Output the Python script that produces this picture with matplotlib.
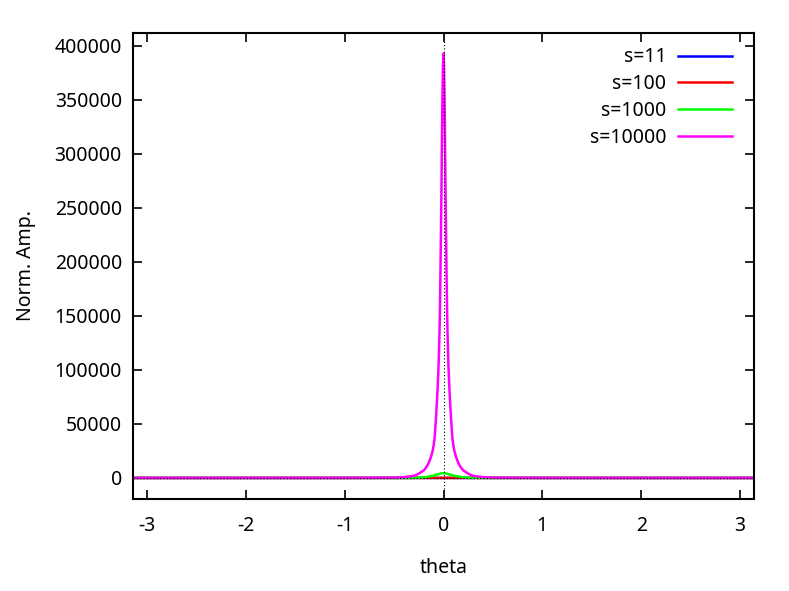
import matplotlib
matplotlib.use("Agg")
from matplotlib import pyplot as plt

plt.rcParams["font.family"] = ["Noto Sans", "DejaVu Sans"]
plt.rcParams["font.size"] = 14
plt.rcParams["axes.unicode_minus"] = False

# sample points along theta (dense near the peak)
theta = [-3.1416, -2.5, -2.0, -1.5, -1.0, -0.7, -0.5, -0.45, -0.4, -0.35,
         -0.3, -0.27, -0.245, -0.22, -0.2, -0.185, -0.17, -0.15, -0.126,
         -0.11, -0.1, -0.09, -0.084, -0.075, -0.064, -0.057, -0.05, -0.045,
         -0.04, -0.035, -0.03, -0.025, -0.02, -0.015, -0.01, -0.005, 0.0,
         0.005, 0.01, 0.015, 0.02, 0.025, 0.03, 0.035, 0.04, 0.045, 0.05,
         0.057, 0.064, 0.075, 0.084, 0.09, 0.1, 0.11, 0.126, 0.15, 0.17,
         0.185, 0.2, 0.22, 0.245, 0.27, 0.3, 0.35, 0.4, 0.45, 0.5, 0.7, 1.0,
         1.5, 2.0, 2.5, 3.1416]

# amplitude for each s
amp_s11 = [0.1, 0.1, 0.1, 0.2, 0.2, 0.3, 0.3, 0.3, 0.4, 0.4,
           0.4, 0.4, 0.4, 0.4, 0.5, 0.5, 0.5, 0.5, 0.5,
           0.5, 0.5, 0.5, 0.5, 0.5, 0.5, 0.5, 0.5, 0.5,
           0.5, 0.5, 0.5, 0.5, 0.5, 0.5, 0.5, 0.5, 0.5,
           0.5, 0.5, 0.5, 0.5, 0.5, 0.5, 0.5, 0.5, 0.5, 0.5,
           0.5, 0.5, 0.5, 0.5, 0.5, 0.5, 0.5, 0.5, 0.5, 0.5,
           0.5, 0.5, 0.4, 0.4, 0.4, 0.4, 0.4, 0.4, 0.3, 0.3, 0.3, 0.2,
           0.2, 0.1, 0.1, 0.1]
amp_s100 = [0, 0, 1, 1, 2, 4, 7, 8, 10, 14,
            18, 20, 22, 25, 28, 30, 31, 33, 36,
            37, 38, 39, 40, 41, 42, 42, 43, 43,
            44, 44, 44, 45, 45, 45, 45, 45, 45,
            45, 45, 45, 45, 45, 44, 44, 44, 43, 43,
            42, 42, 41, 40, 39, 38, 37, 36, 33, 31,
            30, 28, 25, 22, 20, 18, 14, 10, 8, 7, 4, 2,
            1, 1, 0, 0]
amp_s1000 = [0, 0, 0, 1, 3, 6, 12, 18, 30, 50,
             80, 130, 200, 380, 600, 800, 1000, 1350, 1700,
             2000, 2200, 2450, 2700, 2950, 3200, 3350, 3500, 3650,
             3800, 3950, 4050, 4150, 4250, 4320, 4370, 4390, 4400,
             4390, 4370, 4320, 4250, 4150, 4050, 3950, 3800, 3650, 3500,
             3350, 3200, 2950, 2700, 2450, 2200, 2000, 1700, 1350, 1000,
             800, 600, 380, 200, 130, 80, 50, 30, 18, 12, 6, 3,
             1, 0, 0, 0]
amp_s10000 = [0, 0, 5, 15, 50, 150, 300, 500, 800, 1300,
              2000, 3000, 4300, 5800, 7000, 8600, 10500, 13800, 19700,
              25000, 30000, 37000, 44400, 57000, 75000, 88000, 104000, 119000,
              137000, 162000, 196000, 232000, 272000, 318000, 354000, 383000, 393000,
              383000, 354000, 318000, 272000, 232000, 196000, 162000, 137000, 119000, 104000,
              88000, 75000, 57000, 44400, 37000, 30000, 25000, 19700, 13800, 10500,
              8600, 7000, 5800, 4300, 3000, 2000, 1300, 800, 500, 300, 150, 50,
              15, 5, 0, 0]

series = [("s=11", amp_s11, "#0000ff"),
          ("s=100", amp_s100, "#ff0000"),
          ("s=1000", amp_s1000, "#00ff00"),
          ("s=10000", amp_s10000, "#ff00ff")]

fig = plt.figure(figsize=(7.89, 5.91), dpi=100)
ax = fig.add_axes([133 / 789, 1 - 499 / 591, 621 / 789, 466 / 591])

for label, amp, color in series:
    ax.plot(theta, amp, color=color, lw=1.8, label=label)

# gnuplot-style dotted zero axes
ax.axhline(0, color="black", lw=0.8, ls=(0, (1, 2)), zorder=5)
ax.axvline(0, color="black", lw=0.8, ls=(0, (1, 2)), zorder=5)

ax.set_xlim(-3.1416, 3.1416)
ax.set_ylim(-19500, 412000)
ax.set_xticks([-3, -2, -1, 0, 1, 2, 3])
ax.set_yticks(range(0, 400001, 50000))
ax.tick_params(direction="in", length=6.5, width=1.2, top=True, right=True, pad=8)
ax.tick_params(axis="x", pad=12)
for sp in ax.spines.values():
    sp.set_linewidth(1.5)

ax.set_xlabel("theta", labelpad=16)
ax.set_ylabel("Norm. Amp.", labelpad=13)

ax.legend(loc="upper right", bbox_to_anchor=(1 - 4 / 621, 1 + 4 / 466),
          frameon=False, markerfirst=False,
          handlelength=2.75, handletextpad=0.6, labelspacing=0.35,
          borderaxespad=0.55)

plt.savefig("out.png", dpi=100)
